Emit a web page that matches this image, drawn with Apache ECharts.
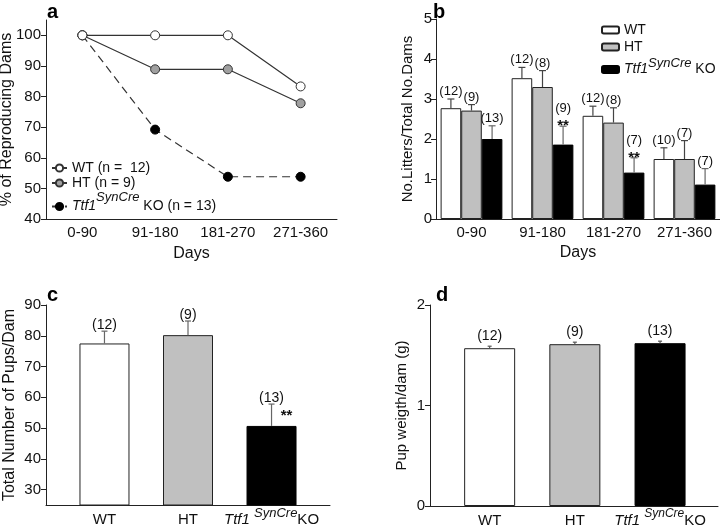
<!DOCTYPE html>
<html>
<head>
<meta charset="utf-8">
<script src="https://cdn.jsdelivr.net/npm/echarts@6/dist/echarts.min.js"></script>
<style>
  html, body { margin: 0; background: #fff; }
  #chart { width: 720px; height: 526px; }
</style>
</head>
<body>
<div id="chart"></div>
<script>
// a: % of reproducing dams
const periods = ['0-90', '91-180', '181-270', '271-360'];
const pctTicks = [40, 50, 60, 70, 80, 90, 100];
const pctWT = [100, 100, 100, 83.3];
const pctHT = [100, 88.9, 88.9, 77.8];
const pctKO = [100, 69.2, 53.8, 53.8];

// b: litters / dams
const litWT = [2.77, 3.52, 2.58, 1.5];
const litWTErr = [0.23, 0.27, 0.24, 0.28];
const litWTn = ['(12)', '(12)', '(12)', '(10)'];
const litHT = [2.71, 3.3, 2.41, 1.5];
const litHTErr = [0.15, 0.41, 0.37, 0.46];
const litHTn = ['(9)', '(8)', '(8)', '(7)'];
const litKO = [2.0, 1.86, 1.16, 0.86];
const litKOErr = [0.33, 0.46, 0.37, 0.4];
const litKOn = ['(13)', '(9)', '(7)', '(7)'];
const litKOStars = ['', '**', '**', ''];

// c: total pups per dam
const genotypes = ['WT', 'HT', 'KO'];
const pupTicks = [30, 40, 50, 60, 70, 80, 90];
const pups = [77.5, 80.2, 50.7];
const pupsErr = [4.0, 4.6, 7.1];
const pupsN = ['(12)', '(9)', '(13)'];
const pupsStars = ['', '', '**'];

// d: pup weight per dam
const weight = [1.57, 1.61, 1.62];
const weightErr = [0.02, 0.02, 0.02];
const weightN = ['(12)', '(9)', '(13)'];

const FONT = 'Liberation Sans, Arial, sans-serif';
const INK = '#111';
const AX = '#222';
const barColors = ['#ffffff', '#c0c0c0', '#000000'];

// superscript = token with bottom padding, raised by half of it
function supRich(size, lineH, supSize, raise) {
  const base = { fontSize: size, lineHeight: lineH, fontFamily: FONT, color: INK };
  return {
    n: base,
    i: Object.assign({}, base, { fontStyle: 'italic' }),
    s: { fontSize: supSize, lineHeight: 8, padding: [0, 0, raise * 2, 0], fontStyle: 'italic', fontFamily: FONT, color: INK }
  };
}

function genotypeLabel(v) {
  const k = Math.round(v);
  return k === 2 ? '{i|Ttf1 }{s|SynCre}{n|KO}' : '{n|' + genotypes[k] + '}';
}

function errorSeries(cfg) {
  return {
    type: 'custom',
    xAxisIndex: cfg.axis,
    yAxisIndex: cfg.axis,
    silent: true,
    z: 5,
    data: cfg.values.map((v, i) => [i, v, cfg.errs[i]]),
    renderItem(params, api) {
      const i = api.value(0);
      const lo = api.coord([i, api.value(1)]);
      const hi = api.coord([i, api.value(1) + api.value(2)]);
      let x = lo[0];
      if (cfg.slots) {
        const w = api.size([1, 0])[0] * (1 - cfg.gap) / cfg.slots;
        x += (cfg.slot - (cfg.slots - 1) / 2) * w;
      }
      const line = { stroke: cfg.color, lineWidth: 1.2 };
      const star = cfg.stars ? cfg.stars[params.dataIndex] : '';
      const kids = [
        { type: 'line', shape: { x1: x, y1: lo[1], x2: x, y2: hi[1] }, style: line },
        { type: 'line', shape: { x1: x - cfg.cap, y1: hi[1], x2: x + cfg.cap, y2: hi[1] }, style: line },
        {
          type: 'text',
          style: {
            text: cfg.labels[params.dataIndex], x: x, y: hi[1] + (star ? cfg.starLabelDy : cfg.labelDy),
            align: 'center', verticalAlign: 'bottom', fontSize: cfg.fontSize, fontFamily: FONT, fill: INK
          }
        }
      ];
      if (star) {
        kids.push({
          type: 'text',
          style: {
            text: star, x: x + cfg.starDx, y: hi[1] + cfg.starDy, align: 'center', verticalAlign: 'middle',
            fontSize: 15, fontWeight: 'bold', fontFamily: FONT, fill: INK
          }
        });
      }
      return { type: 'group', children: kids };
    }
  };
}

const axisLine = { lineStyle: { color: AX, width: 1 } };
const tickStyle = { length: 5, lineStyle: { color: AX, width: 1 } };
const tickFont = { color: INK, fontSize: 15, fontFamily: FONT };
const nameFont = { color: INK, fontSize: 16, fontFamily: FONT };

const chart = echarts.init(document.getElementById('chart'));
chart.setOption({
  animation: false,
  backgroundColor: '#fff',
  title: [
    { text: 'a', left: 42, top: -3 },
    { text: 'b', left: 428, top: -3 },
    { text: 'c', left: 42, top: 280 },
    { text: 'd', left: 431, top: 280 }
  ].map(t => Object.assign(t, { textStyle: { fontSize: 20, fontWeight: 'bold', color: '#000', fontFamily: FONT } })),
  legend: [
    {
      data: ['WT (n =  12)', 'HT (n = 9)', 'KO (n = 13)'],
      orient: 'vertical', left: 46, top: 156, itemGap: 1, itemWidth: 15, itemHeight: 9,
      textStyle: { fontSize: 14, lineHeight: 14, fontFamily: FONT, color: INK, rich: supRich(14, 24, 13, 9) },
      formatter: n => n.startsWith('KO') ? '{i|Ttf1}{s|SynCre}{n| KO (n = 13)}' : n
    },
    {
      data: ['WT', 'HT', 'Ttf1 KO'],
      orient: 'vertical', left: 596, top: 18, itemGap: 3, itemWidth: 17, itemHeight: 7,
      textStyle: { fontSize: 14, lineHeight: 14, fontFamily: FONT, color: INK, rich: supRich(14, 20, 13, 6) },
      formatter: n => n === 'Ttf1 KO' ? '{i|Ttf1}{s|SynCre}{n| KO}' : n
    }
  ],
  grid: [
    { left: 46, top: 20, width: 291, height: 199 },
    { left: 436, top: 19, width: 284, height: 200 },
    { left: 46, top: 305, width: 284, height: 200 },
    { left: 430, top: 305, width: 288, height: 201 }
  ].map(g => Object.assign(g, { outerBoundsMode: 'none', containLabel: false })),
  xAxis: [
    {
      gridIndex: 0, type: 'category', data: periods, boundaryGap: true,
      axisLine: axisLine, axisTick: Object.assign({ alignWithLabel: true }, tickStyle),
      axisLabel: Object.assign({ margin: 6, interval: 0 }, tickFont),
      name: 'Days', nameLocation: 'middle', nameGap: 27, nameTextStyle: nameFont
    },
    {
      gridIndex: 1, type: 'category', data: periods,
      axisLine: axisLine, axisTick: { show: false },
      axisLabel: Object.assign({ margin: 6, interval: 0 }, tickFont),
      name: 'Days', nameLocation: 'middle', nameGap: 26, nameTextStyle: nameFont
    },
    {
      gridIndex: 2, type: 'value', min: -0.7, max: 2.7, splitLine: { show: false },
      axisLine: Object.assign({ onZero: false }, axisLine), axisTick: { show: false },
      axisLabel: { customValues: [0, 1, 2], margin: 5, formatter: genotypeLabel, rich: supRich(15, 20, 13, 7) }
    },
    {
      gridIndex: 3, type: 'value', min: -0.7, max: 2.68, splitLine: { show: false },
      axisLine: Object.assign({ onZero: false }, axisLine), axisTick: { show: false },
      axisLabel: { customValues: [0, 1, 2], margin: 5, formatter: genotypeLabel, rich: supRich(15, 20, 12, 7) }
    }
  ],
  yAxis: [
    {
      gridIndex: 0, type: 'value', min: 40, max: 105, splitLine: { show: false },
      axisLine: Object.assign({ show: true, onZero: false }, axisLine),
      axisTick: Object.assign({ show: true, customValues: pctTicks }, tickStyle),
      axisLabel: Object.assign({ customValues: pctTicks, margin: 5 }, tickFont),
      name: '% of Reproducing Dams', nameLocation: 'middle', nameGap: 31, nameMoveOverlap: false,
      nameTextStyle: nameFont
    },
    {
      gridIndex: 1, type: 'value', min: 0, max: 5, interval: 1, splitLine: { show: false },
      axisLine: Object.assign({ show: true, onZero: false }, axisLine),
      axisTick: Object.assign({ show: true }, tickStyle),
      axisLabel: Object.assign({ margin: 4 }, tickFont),
      name: 'No.Litters/Total No.Dams', nameLocation: 'middle', nameGap: 21,
      nameTextStyle: Object.assign({}, nameFont, { fontSize: 15 })
    },
    {
      gridIndex: 2, type: 'value', min: 25, max: 90, splitLine: { show: false },
      axisLine: Object.assign({ show: true, onZero: false }, axisLine),
      axisTick: Object.assign({ show: true, customValues: pupTicks }, tickStyle),
      axisLabel: Object.assign({ customValues: pupTicks, margin: 5 }, tickFont),
      name: 'Total Number of Pups/Dam', nameLocation: 'middle', nameGap: 28, nameTextStyle: nameFont
    },
    {
      gridIndex: 3, type: 'value', min: 0, max: 2, interval: 1, splitLine: { show: false },
      axisLine: Object.assign({ show: true, onZero: false }, axisLine),
      axisTick: Object.assign({ show: true }, tickStyle),
      axisLabel: Object.assign({ margin: 5 }, tickFont),
      name: 'Pup weigth/dam (g)', nameLocation: 'middle', nameGap: 21,
      nameTextStyle: Object.assign({}, nameFont, { fontSize: 15 })
    }
  ],
  series: [
    // a
    {
      name: 'KO (n = 13)', type: 'line', xAxisIndex: 0, yAxisIndex: 0, data: pctKO,
      symbol: 'circle', symbolSize: 9,
      lineStyle: { color: '#333', width: 1.2, type: [8, 5] },
      itemStyle: { color: '#000', borderColor: '#000', borderWidth: 1 }
    },
    {
      name: 'HT (n = 9)', type: 'line', xAxisIndex: 0, yAxisIndex: 0, data: pctHT,
      symbol: 'circle', symbolSize: 9,
      lineStyle: { color: '#333', width: 1.2 },
      itemStyle: { color: '#a0a0a0', borderColor: '#333', borderWidth: 1 }
    },
    {
      name: 'WT (n =  12)', type: 'line', xAxisIndex: 0, yAxisIndex: 0, data: pctWT,
      symbol: 'circle', symbolSize: 9,
      lineStyle: { color: '#333', width: 1.2 },
      itemStyle: { color: '#fff', borderColor: '#333', borderWidth: 1 }
    },
    // b
    {
      name: 'WT', type: 'bar', xAxisIndex: 1, yAxisIndex: 1, data: litWT,
      barGap: '0%', barCategoryGap: '13%',
      itemStyle: { color: barColors[0], borderColor: AX, borderWidth: 1 }
    },
    {
      name: 'HT', type: 'bar', xAxisIndex: 1, yAxisIndex: 1, data: litHT,
      barGap: '0%', barCategoryGap: '13%',
      itemStyle: { color: barColors[1], borderColor: AX, borderWidth: 1 }
    },
    {
      name: 'Ttf1 KO', type: 'bar', xAxisIndex: 1, yAxisIndex: 1, data: litKO,
      barGap: '0%', barCategoryGap: '13%',
      itemStyle: { color: barColors[2], borderColor: '#000', borderWidth: 1 }
    },
    errorSeries({ axis: 1, values: litWT, errs: litWTErr, labels: litWTn, slot: 0, slots: 3, gap: 0.13,
      color: '#444', cap: 3.5, fontSize: 13, labelDy: -1 }),
    errorSeries({ axis: 1, values: litHT, errs: litHTErr, labels: litHTn, slot: 1, slots: 3, gap: 0.13,
      color: '#444', cap: 3.5, fontSize: 13, labelDy: -1 }),
    errorSeries({ axis: 1, values: litKO, errs: litKOErr, labels: litKOn, stars: litKOStars, slot: 2, slots: 3, gap: 0.13,
      color: '#666', cap: 3.5, fontSize: 13, labelDy: -1, starLabelDy: -11, starDx: 0, starDy: 0 }),
    // c
    {
      name: 'pups', type: 'bar', xAxisIndex: 2, yAxisIndex: 2, barWidth: 50,
      data: pups.map((v, i) => ({ value: [i, v], itemStyle: { color: barColors[i], borderColor: i === 2 ? '#000' : AX, borderWidth: 1 } }))
    },
    errorSeries({ axis: 2, values: pups, errs: pupsErr, labels: pupsN, stars: pupsStars,
      color: '#666', cap: 3, fontSize: 14, labelDy: 1, starLabelDy: 1, starDx: 15, starDy: 12 }),
    // d
    {
      name: 'weight', type: 'bar', xAxisIndex: 3, yAxisIndex: 3, barWidth: 51,
      data: weight.map((v, i) => ({ value: [i, v], itemStyle: { color: barColors[i], borderColor: i === 2 ? '#000' : AX, borderWidth: 1 } }))
    },
    errorSeries({ axis: 3, values: weight, errs: weightErr, labels: weightN,
      color: '#555', cap: 2, fontSize: 14, labelDy: -3 })
  ]
});
</script>
</body>
</html>
